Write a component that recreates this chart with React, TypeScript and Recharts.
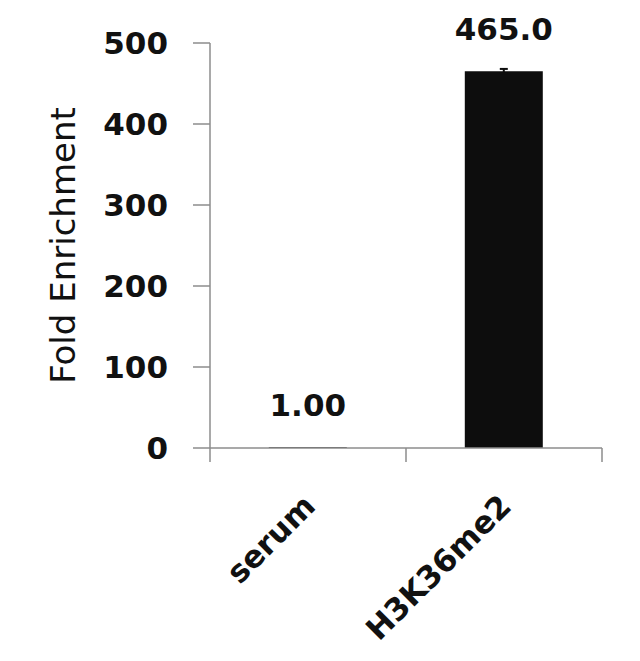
import React from "react";
import { BarChart, Bar, XAxis, YAxis, LabelList, ErrorBar, Label } from "recharts";

const categories = ["serum", "H3K36me2"];
const foldValues = [1.0, 465.0];
const errorValues = [0, 3];
const valueLabels = ["1.00", "465.0"];
const yTicks = [0, 100, 200, 300, 400, 500];

const data = categories.map((c, i) => ({
  name: c,
  value: foldValues[i],
  err: errorValues[i],
  label: valueLabels[i],
}));

const FONT = "'DejaVu Sans', sans-serif";
const AXIS_COLOR = "#8c8c8c";

const XTick = (props: any) => {
  const { x, y, payload, index } = props;
  const half = payload && payload.offset ? payload.offset : 98;
  const axisY = y - 14;
  const isLast = index === categories.length - 1;
  return (
    <g>
      <line x1={x - half} y1={axisY} x2={x - half} y2={y} stroke={AXIS_COLOR} strokeWidth={1.5} />
      {isLast && (
        <line x1={x + half} y1={axisY} x2={x + half} y2={y} stroke={AXIS_COLOR} strokeWidth={1.5} />
      )}
      <text
        x={x + 9}
        y={y + 46}
        transform={`rotate(-45, ${x + 9}, ${y + 46})`}
        textAnchor="end"
        fontFamily={FONT}
        fontWeight="bold"
        fontSize={31}
        fill="#111"
      >
        {payload.value}
      </text>
    </g>
  );
};

const YLabel = (props: any) => {
  const vb = props.viewBox || { x: 0, y: 43, width: 210, height: 405 };
  const cx = vb.x + 63;
  const cy = vb.y + vb.height / 2;
  return (
    <text
      x={cx}
      y={cy}
      transform={`rotate(-90, ${cx}, ${cy})`}
      textAnchor="middle"
      dominantBaseline="central"
      fontFamily={FONT}
      fontSize={34}
      fill="#111"
    >
      Fold Enrichment
    </text>
  );
};

export default function App() {
  return (
    <div style={{ position: "absolute", left: 0, top: 0, width: 640, height: 661, background: "#fff" }}>
      <BarChart
        width={640}
        height={661}
        data={data}
        margin={{ top: 43, right: 38, bottom: 0, left: 0 }}
        barCategoryGap="30%"
      >
        <XAxis
          dataKey="name"
          height={213}
          axisLine={{ stroke: AXIS_COLOR, strokeWidth: 1.5 }}
          tickLine={false}
          tickSize={14}
          tickMargin={0}
          tick={<XTick />}
          interval={0}
        />
        <YAxis
          width={210}
          domain={[0, 500]}
          ticks={yTicks}
          interval={0}
          axisLine={{ stroke: AXIS_COLOR, strokeWidth: 1.5 }}
          tickLine={{ stroke: AXIS_COLOR, strokeWidth: 1.5 }}
          tickSize={17}
          tickMargin={25}
          tick={{ fontFamily: FONT, fontWeight: "bold", fontSize: 31, fill: "#111" }}
        >
          <Label content={<YLabel />} />
        </YAxis>
        <Bar dataKey="value" fill="#0d0d0d" isAnimationActive={false}>
          <ErrorBar dataKey="err" width={4} stroke="#0d0d0d" strokeWidth={2} direction="y" />
          <LabelList
            dataKey="label"
            position="top"
            offset={31}
            fontFamily={FONT}
            fontWeight="bold"
            fontSize={31}
            fill="#111"
          />
        </Bar>
      </BarChart>
    </div>
  );
}
